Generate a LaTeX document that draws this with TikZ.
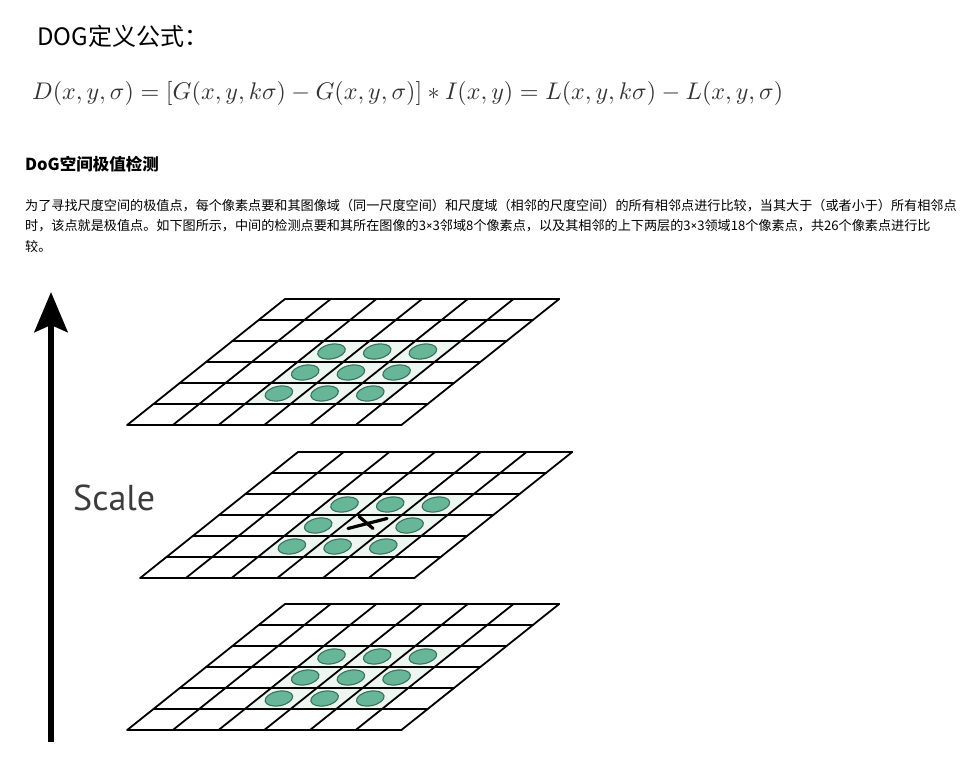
\documentclass[tikz,border=0pt]{standalone}
\usepackage{fontspec}
\usepackage{graphicx}
\newfontfamily\cjk{Noto Sans CJK SC}
\newfontfamily\scalefnt{PT Sans}
\newcommand{\tms}{{\scalefnt ×}}
\usetikzlibrary{arrows.meta,shapes.geometric}
\definecolor{dotfill}{RGB}{104,182,152}
\definecolor{dotline}{RGB}{58,112,94}
\definecolor{tint}{RGB}{238,246,242}
\definecolor{formulacol}{RGB}{51,51,51}
\definecolor{scalegray}{RGB}{60,60,60}
\newcommand{\cwv}{45.7}
\newcommand{\rxv}{-26.3}
\newcommand{\ryv}{21}
% #1 name, #2 TL x, #3 TL y, #4 1 = middle layer with cross
\newcommand{\dogrid}[4]{%
  \begin{scope}[shift={(#2,#3)}]
    \fill[tint] ({2*\cwv+2*\rxv},{2*\ryv}) -- ({5*\cwv+2*\rxv},{2*\ryv})
      -- ({5*\cwv+5*\rxv},{5*\ryv}) -- ({2*\cwv+5*\rxv},{5*\ryv}) -- cycle;
    \foreach \i in {0,1,2}{
      \foreach \j in {0,1,2}{
        \pgfmathtruncatemacro{\iscenter}{(\i==1 && \j==1 && #4==1) ? 1 : 0}
        \ifnum\iscenter=0
          \node[dot] (#1-\i-\j) at ({(2.5+\i)*\cwv+(2.5+\j)*\rxv-2},{(2.5+\j)*\ryv}) {};
        \fi
      }
    }
    \foreach \k in {0,...,6}{
      \draw[gridline] ({\k*\rxv},{\k*\ryv}) -- ({6*\cwv+\k*\rxv},{\k*\ryv});
      \draw[gridline] ({\k*\cwv},0) -- ({\k*\cwv+6*\rxv},{6*\ryv});
    }
  \end{scope}}
\begin{document}
\begin{tikzpicture}[x=1pt,y=-1pt,
  gridline/.style={line width=1.8pt, black, line cap=round, line join=round},
  dot/.style={ellipse, draw=dotline, fill=dotfill, line width=1.1pt,
    minimum width=28pt, minimum height=14.5pt, inner sep=0pt, rotate=11},
  crossline/.style={line width=3.2pt, black, line cap=round},
  scalearrow/.style={line width=6.5pt, black,
    -{Stealth[length=40pt,width=33pt,inset=7pt]}},
  bodytext/.style={anchor=west, inner sep=0pt, font=\cjk\fontsize{13.12}{16}\selectfont, text=black}]
\useasboundingbox (0,0) rectangle (975,762);
\fill[white] (0,0) rectangle (975,762);

\node[anchor=west, inner sep=0pt, font=\cjk\fontsize{24}{28}\selectfont] (title) at (37,36) {DOG定义公式：};
\node[anchor=west, inner sep=0pt, text=formulacol] (formula) at (32,93)
  {\resizebox{751pt}{!}{$D(x,y,\sigma)=[G(x,y,k\sigma)-G(x,y,\sigma)]*I(x,y)=L(x,y,k\sigma)-L(x,y,\sigma)$}};
\node[anchor=west, inner sep=0pt, font=\cjk\bfseries\fontsize{16.5}{20}\selectfont] (heading) at (25,164) {DoG空间极值检测};
\node[bodytext] (line1) at (25,206) {为了寻找尺度空间的极值点，每个像素点要和其图像域（同一尺度空间）和尺度域（相邻的尺度空间）的所有相邻点进行比较，当其大于（或者小于）所有相邻点};
\node[bodytext] (line2) at (25,226) {时，该点就是极值点。如下图所示，中间的检测点要和其所在图像的3\tms 3邻域8个像素点，以及其相邻的上下两层的3\tms 3领域18个像素点，共26个像素点进行比};
\node[bodytext] (line3) at (25,246) {较。};

\dogrid{top}{285}{299}{0}
\dogrid{mid}{298}{452}{1}
\dogrid{bot}{285}{604}{0}

\coordinate (xc) at (366,525);
\draw[crossline] ([shift={(-18,3.5)}]xc) -- ([shift={(21,-6.5)}]xc);
\draw[crossline] ([shift={(-7,-8.5)}]xc) -- ([shift={(7,3.5)}]xc);

\coordinate (arrowbase) at (51,742);
\coordinate (arrowtip) at (51,292);
\draw[scalearrow] (arrowbase) -- (arrowtip);

\node[anchor=base west, inner sep=0pt, text=scalegray, font=\scalefnt\fontsize{36}{40}\selectfont] (scale) at (73,510) {Scale};
\end{tikzpicture}
\end{document}
